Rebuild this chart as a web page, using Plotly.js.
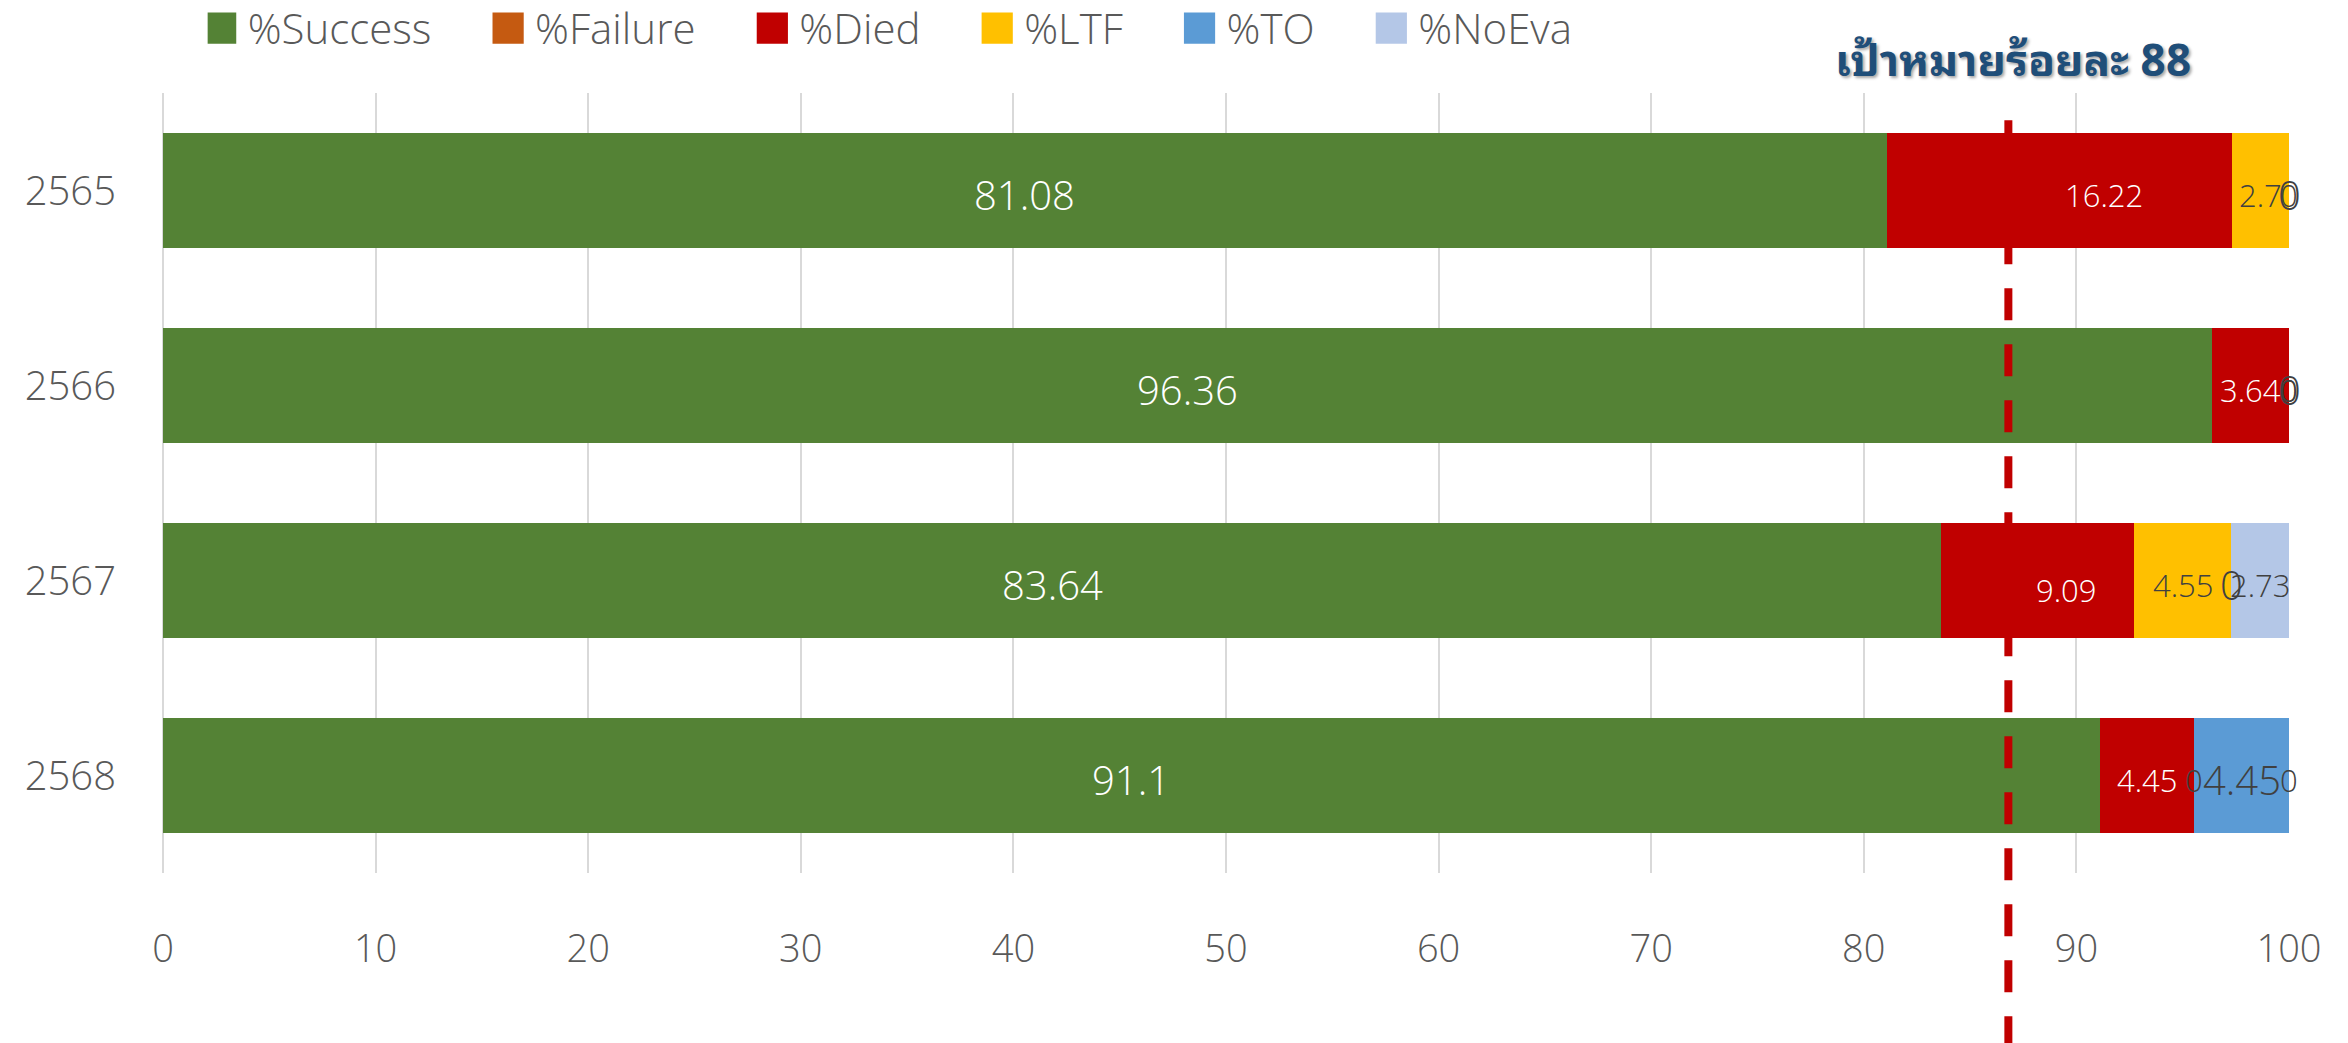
<!DOCTYPE html>
<html>
<head>
<meta charset="utf-8">
<script src="https://cdn.plot.ly/plotly-3.0.1.min.js"></script>
<style>html,body{margin:0;padding:0;background:#fff;} #chart{width:2348px;height:1043px;}</style>
</head>
<body>
<div id="chart"></div>
<script>
// ---- data ----
const years = ['2565', '2566', '2567', '2568'];
const success = [81.08, 96.36, 83.64, 91.1];
const failure = [0, 0, 0, 0];
const died = [16.22, 3.64, 9.09, 4.45];
const ltf = [2.7, 0, 4.55, 0];
const to = [0, 0, 0, 4.45];
const noeva = [0, 0, 2.73, 0];
const seriesNames = ['%Success', '%Failure', '%Died', '%LTF', '%TO', '%NoEva'];
const xTickValues = [0, 10, 20, 30, 40, 50, 60, 70, 80, 90, 100];
const targetValue = 86.8;
const targetLabel = 'เป้าหมายร้อยละ 88';

// ---- styles ----
const colors = ['#548235', '#C55A11', '#C00000', '#FFC000', '#5B9BD5', '#B4C7E7'];
const FONT = 'Open Sans, Noto Sans, sans-serif';
const labelStyle = [
  {show: true, color: '#FFFFFF', size: 40, nudge: false},
  {show: false},
  {show: true, color: '#FFFFFF', size: 31, nudge: true},
  {show: true, color: '#404040', size: 31, nudge: false},
  {show: true, color: '#404040', size: 40, nudge: false},
  {show: true, color: '#404040', size: 31, nudge: false}
];
const LABEL_DROP_PX = -4;
// manual pixel nudges of some labels (as moved in the original chart)
const labelNudgePx = {'2565': [45, -4], '2567': [28, -9]};
const LEGEND_PAD = '\u00A0\u00A0\u00A0\u00A0\u00A0\u200A';

const series = [success, failure, died, ltf, to, noeva];
const traces = [];
const base = years.map(() => 0);
const labelAnnots = [];
series.forEach((vals, i) => {
  traces.push({
    type: 'bar', orientation: 'h', name: seriesNames[i] + LEGEND_PAD,
    y: years, x: vals,
    marker: {color: colors[i], line: {width: 0}},
    hoverinfo: 'x+name'
  });
  const st = labelStyle[i];
  if (st.show) {
    vals.forEach((v, k) => {
      const nudge = (st.nudge && labelNudgePx[years[k]]) || [0, LABEL_DROP_PX];
      labelAnnots.push({
        xref: 'x', yref: 'y', x: base[k] + v / 2, y: k, text: String(v), showarrow: false,
        xanchor: 'center', yanchor: 'middle', xshift: nudge[0], yshift: nudge[1],
        font: {family: FONT, size: st.size, color: st.color, weight: 300}
      });
    });
  }
  vals.forEach((v, k) => { base[k] += v; });
});

const layout = {
  width: 2348, height: 1043,
  margin: {l: 163, r: 59, t: 93, b: 170, autoexpand: false},
  paper_bgcolor: '#fff', plot_bgcolor: '#fff',
  barmode: 'stack', bargap: 0.41,
  font: {family: FONT, color: '#595959', weight: 300},
  showlegend: true,
  legend: {
    orientation: 'h', x: 0.021, xanchor: 'left', y: 1.083, yanchor: 'middle',
    font: {family: FONT, size: 42, color: '#595959', weight: 300},
    bgcolor: 'rgba(0,0,0,0)', traceorder: 'normal'
  },
  xaxis: {
    range: [0, 100], tickvals: xTickValues, ticktext: xTickValues.map(String),
    showgrid: true, gridcolor: '#D9D9D9', gridwidth: 2,
    zeroline: true, zerolinecolor: '#D9D9D9', zerolinewidth: 2,
    showline: false, ticks: '', ticklabelstandoff: 50,
    tickfont: {family: FONT, size: 38, color: '#595959', weight: 300},
    fixedrange: true
  },
  yaxis: {
    type: 'category', categoryorder: 'array', categoryarray: years,
    range: [years.length - 0.5, -0.5], autorange: false,
    showgrid: false, zeroline: false, showline: false,
    ticks: '', ticklabelstandoff: 46,
    tickfont: {family: FONT, size: 40, color: '#595959', weight: 300},
    fixedrange: true
  },
  shapes: [{
    type: 'line', xref: 'x', yref: 'paper', x0: targetValue, x1: targetValue,
    y0: 0.965, y1: -0.25, layer: 'above',
    line: {color: '#C00000', width: 8, dash: '32px,24px'}
  }],
  annotations: labelAnnots.concat([{
    xref: 'x', yref: 'paper', x: targetValue + 0.2, y: 1.047, xanchor: 'center', yanchor: 'middle',
    showarrow: false, text: '<b>' + targetLabel + '</b>',
    font: {family: 'Noto Sans Thai Looped, Noto Sans Thai, Tahoma, Loma, Garuda, sans-serif', size: 44, color: '#1F4E79',
           shadow: '2px 2px 3px rgba(0,0,0,0.35)'}
  }])
};

Plotly.newPlot('chart', traces, layout, {displayModeBar: false, staticPlot: true}).then(gd => {
  // enlarge legend colour boxes to match the original square swatches
  gd.querySelectorAll('.legend .legendpoints path').forEach(p => {
    const t = p.getAttribute('transform') || '';
    p.setAttribute('transform', t + ' translate(-7,0) scale(2.6)');
  });
});
</script>
</body>
</html>
